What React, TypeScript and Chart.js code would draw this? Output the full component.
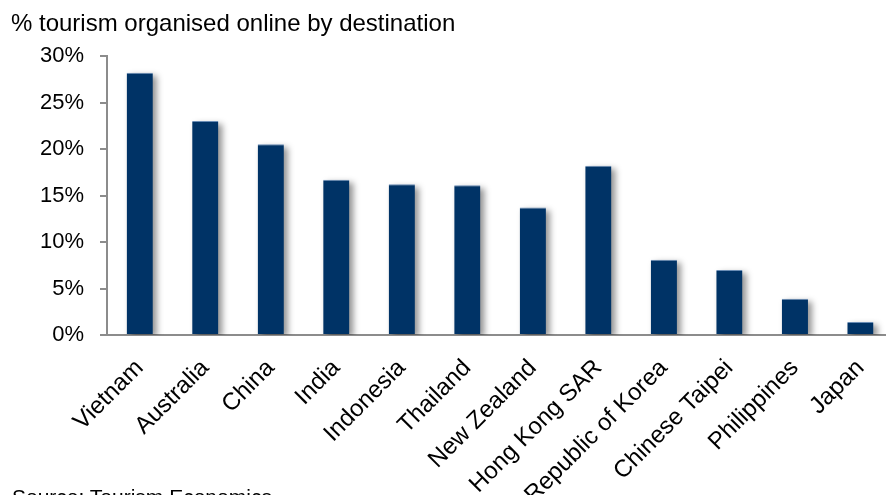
import React, { useEffect, useRef } from "react";
import { Chart, registerables } from "chart.js";

Chart.register(...registerables);

const categories = [
  "Vietnam",
  "Australia",
  "China",
  "India",
  "Indonesia",
  "Thailand",
  "New Zealand",
  "Hong Kong SAR",
  "Republic of Korea",
  "Chinese Taipei",
  "Philippines",
  "Japan",
];
const onlineShare = [28.2, 23.0, 20.5, 16.7, 16.2, 16.1, 13.7, 18.2, 8.1, 7.0, 3.9, 1.4];
const yTicks = [0, 5, 10, 15, 20, 25, 30];

const titleText = "% tourism organised online by destination";
const sourceText = "Source: Tourism Economics";

const FONT = "'Liberation Sans', Arial, sans-serif";

const shadowPlugin = {
  id: "barShadow",
  beforeDatasetsDraw(chart: any) {
    const ctx = chart.ctx;
    const meta = chart.getDatasetMeta(0);
    ctx.save();
    const area = chart.chartArea;
    ctx.beginPath();
    ctx.rect(area.left, area.top - 10, area.right - area.left + 20, area.bottom - area.top + 10);
    ctx.clip();
    ctx.filter = "blur(3px)";
    ctx.fillStyle = "rgba(0,0,0,0.42)";
    meta.data.forEach((bar: any) => {
      const p = bar.getProps(["x", "y", "width", "base"], true);
      const left = p.x - p.width / 2;
      ctx.fillRect(left + 4, p.y + 3, p.width, p.base - p.y);
    });
    ctx.restore();
  },
};

export default function App() {
  const ref = useRef<HTMLCanvasElement | null>(null);
  useEffect(() => {
    if (!ref.current) return;
    const chart = new Chart(ref.current, {
      type: "bar",
      data: {
        labels: categories,
        datasets: [
          {
            data: onlineShare,
            backgroundColor: "#003366",
            borderColor: "#6a8db5",
            borderWidth: { top: 1, left: 0, right: 0, bottom: 0 } as any,
            barPercentage: 0.4,
            categoryPercentage: 1,
          },
        ],
      },
      plugins: [shadowPlugin],
      options: {
        responsive: false,
        animation: false,
        devicePixelRatio: 1,
        layout: { padding: { top: 56, right: 6, left: 0, bottom: 0 } },
        plugins: {
          legend: { display: false },
          tooltip: { enabled: false },
          title: { display: false },
        },
        scales: {
          x: {
            grid: { display: false, drawTicks: false },
            border: { display: true, color: "#8c8c8c", width: 2 },
            ticks: {
              minRotation: 45,
              maxRotation: 45,
              autoSkip: false,
              color: "#000",
              padding: 19,
              font: { family: FONT, size: 24 },
            },
            afterFit(scale: any) {
              scale.height = 160;
            },
          },
          y: {
            min: 0,
            max: 30,
            afterBuildTicks(scale: any) {
              scale.ticks = yTicks.map((v) => ({ value: v }));
            },
            grid: {
              drawOnChartArea: false,
              drawTicks: true,
              tickLength: 7,
              color: "#8c8c8c",
              lineWidth: 2,
            },
            border: { display: true, color: "#8c8c8c", width: 2 },
            ticks: {
              color: "#000",
              padding: 16,
              font: { family: FONT, size: 22 },
              callback: (v: any) => v + "%",
            },
            afterFit(scale: any) {
              scale.width = 107;
            },
          },
        },
      },
    });
    return () => chart.destroy();
  }, []);

  return (
    <div
      style={{
        position: "fixed",
        left: 0,
        top: 0,
        width: 886,
        height: 495,
        overflow: "hidden",
        background: "#fff",
      }}
    >
      <canvas
        ref={ref}
        width={900}
        height={495}
        style={{ position: "absolute", left: 0, top: 0, width: 900, height: 495 }}
      />
      <div
        style={{
          position: "absolute",
          left: 11,
          top: 9,
          fontFamily: FONT,
          fontSize: 24,
          color: "#000",
          whiteSpace: "nowrap",
        }}
      >
        {titleText}
      </div>
      <div
        style={{
          position: "absolute",
          left: 12,
          top: 485,
          fontFamily: FONT,
          fontSize: 21,
          color: "#000",
          whiteSpace: "nowrap",
        }}
      >
        {sourceText}
      </div>
    </div>
  );
}
